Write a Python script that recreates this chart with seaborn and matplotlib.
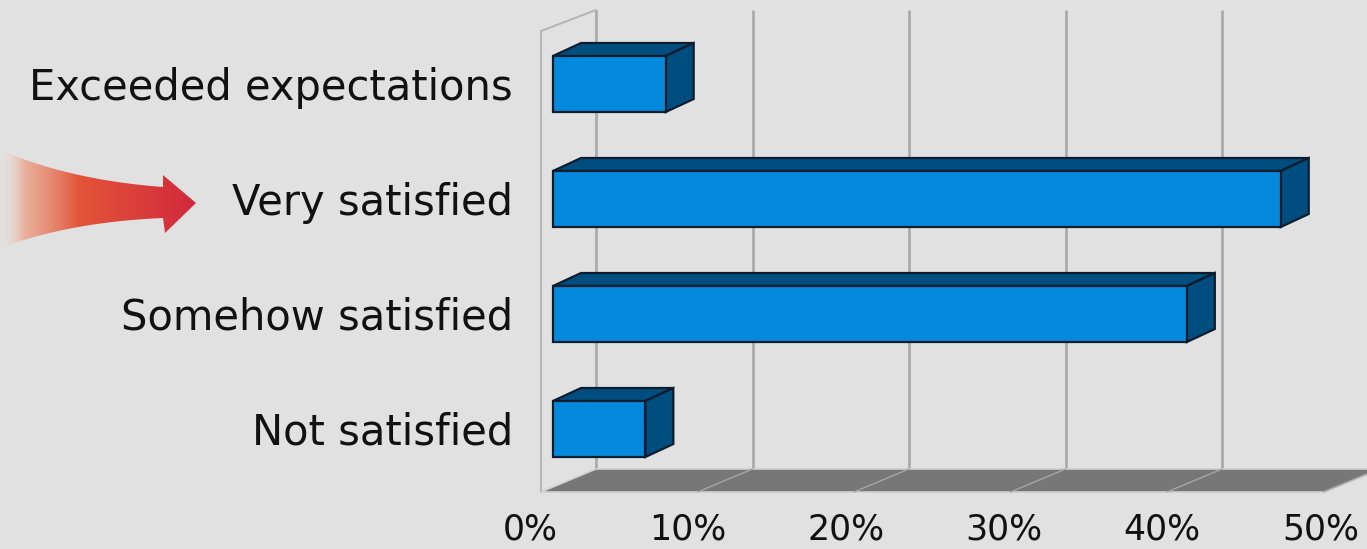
import numpy as np
import pandas as pd
import matplotlib.pyplot as plt
import seaborn as sns
from matplotlib.patches import Polygon, PathPatch
from matplotlib.path import Path

# data
categories = ["Exceeded expectations", "Very satisfied", "Somehow satisfied", "Not satisfied"]
shares = [7.2, 46.5, 40.5, 5.9]
tick_values = [0, 10, 20, 30, 40, 50]
tick_labels = ["0%", "10%", "20%", "30%", "40%", "50%"]

df = pd.DataFrame({"category": categories, "share": shares})

# canvas / projection settings (pixels)
W, H = 1367, 549
PX_X = 15.65      # pixels per percent
PX_Y = 115.0      # pixels per category step
X0_PX = 553       # 0% in the plane of the bar fronts
Y0_PX = 84        # centre of first category


def to_data(xp, yp):
    return (xp - X0_PX) / PX_X, (yp - Y0_PX) / PX_Y


bg = "#e1e1e1"
sns.set_theme(style="white", rc={"axes.facecolor": bg, "figure.facecolor": bg})
plt.rcParams["font.family"] = ["DejaVu Sans"]

fig = plt.figure(figsize=(W / 100, H / 100), dpi=100)
ax = fig.add_axes([0, 0, 1, 1])

# front faces of the bars
sns.barplot(data=df, x="share", y="category", order=categories, orient="h",
            color="#0589dc", saturation=1, width=56 / PX_Y,
            edgecolor="#0b1c2c", linewidth=1.6, ax=ax, zorder=5)

ax.set_xlim(-X0_PX / PX_X, (W - X0_PX) / PX_X)
ax.set_ylim((H - Y0_PX) / PX_Y, -Y0_PX / PX_Y)
ax.axis("off")

# 3d offsets
front_dx = -12 / PX_X            # floor front edge relative to bar plane
back_dx = (596 - X0_PX) / PX_X   # back wall relative to bar plane
_, y_floor_front = to_data(0, 492)
_, y_floor_back = to_data(0, 469)
_, y_top_back = to_data(0, 10)
_, y_top_front = to_data(0, 31)

# floor
v_max = tick_values[-1]
floor = Polygon([(front_dx, y_floor_front), (v_max + front_dx, y_floor_front),
                 (v_max + back_dx + 0.2, y_floor_back), (back_dx, y_floor_back)],
                closed=True, facecolor="#777777", edgecolor="#d0d0d0", lw=1.2, zorder=1)
ax.add_patch(floor)

for v in tick_values:
    # back wall grid line
    ax.plot([v + back_dx, v + back_dx], [y_floor_back, y_top_back],
            color="#ababab", lw=2, zorder=0.5, solid_capstyle="butt")
    # diagonal on the floor
    if v > 0:
        ax.plot([v + front_dx, v + back_dx], [y_floor_front, y_floor_back],
                color="#a6a6a6", lw=1, zorder=1.5)

# left side wall
ax.plot([front_dx, front_dx, back_dx], [y_floor_front, y_top_front, y_top_back],
        color="#b4b4b4", lw=1.4, zorder=0.5)

# top and side faces of the bars
ddx, ddy = 28 / PX_X, -13 / PX_Y
dark = "#004e80"
for p in list(ax.patches):
    if p is floor:
        continue
    x0 = p.get_x()
    x1 = x0 + p.get_width()
    yt = p.get_y()
    yb = yt + p.get_height()
    top = Polygon([(x0, yt), (x1, yt), (x1 + ddx, yt + ddy), (x0 + ddx, yt + ddy)],
                  closed=True, facecolor=dark, edgecolor="#0b1c2c", lw=1.6, zorder=4)
    side = Polygon([(x1, yt), (x1 + ddx, yt + ddy), (x1 + ddx, yb + ddy), (x1, yb)],
                   closed=True, facecolor=dark, edgecolor="#0b1c2c", lw=1.6, zorder=4)
    ax.add_patch(top)
    ax.add_patch(side)

# category labels
lx, _ = to_data(513, 0)
for i, c in enumerate(categories):
    ax.text(lx, i + 4 / PX_Y, c, ha="right", va="center", fontsize=30,
            color="#111111")

# x tick labels along the front edge
_, ty = to_data(0, 530)
for v, t in zip(tick_values, tick_labels):
    ax.text(v * 1.01 + (530 - X0_PX) / PX_X, ty, t, ha="center", va="center",
            fontsize=25, color="#111111")

# red arrow pointing at "Very satisfied"
def bez(p0, p1, p2, n=30):
    t = np.linspace(0, 1, n)[:, None]
    return (1 - t) ** 2 * np.array(p0) + 2 * (1 - t) * t * np.array(p1) + t ** 2 * np.array(p2)

top_curve = bez((0, 150), (70, 180), (163, 187))
bot_curve = bez((163, 218), (70, 222), (0, 248))
head = np.array([(163, 187), (163, 175), (196, 203), (165, 233), (163, 218)])
arrow_px = np.vstack([top_curve, head, bot_curve])
arrow_pts = np.array([to_data(x, y) for x, y in arrow_px])
arrow = PathPatch(Path(np.vstack([arrow_pts, arrow_pts[:1]]), closed=True),
                  facecolor="none", edgecolor="none")
ax.add_patch(arrow)

xs = np.linspace(0, 196, 300)
stops = [0, 25, 80, 196]
r = np.interp(xs, stops, [0.95, 0.92, 0.89, 0.82])
g = np.interp(xs, stops, [0.88, 0.62, 0.33, 0.16])
b = np.interp(xs, stops, [0.85, 0.52, 0.22, 0.24])
a = np.interp(xs, stops, [0.05, 0.75, 1.0, 1.0])
grad = np.dstack([r, g, b, a])
gx0, gy0 = to_data(0, 140)
gx1, gy1 = to_data(196, 255)
im = ax.imshow(grad, extent=(gx0, gx1, gy1, gy0), aspect="auto", zorder=3)
im.set_clip_path(arrow)

ax.set_xlim(-X0_PX / PX_X, (W - X0_PX) / PX_X)
ax.set_ylim((H - Y0_PX) / PX_Y, -Y0_PX / PX_Y)

fig.savefig("out.png", dpi=100, facecolor=bg)
